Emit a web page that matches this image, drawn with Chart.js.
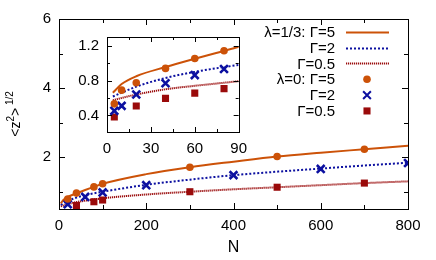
<!DOCTYPE html>
<html>
<head>
<meta charset="utf-8">
<script src="https://cdn.jsdelivr.net/npm/chart.js@4"></script>
<style>
  html, body { margin: 0; padding: 0; background: #fff; }
  #wrap { position: relative; width: 436px; height: 260px; }
  #main { position: absolute; left: 0; top: 0; }
  #inset { position: absolute; left: 70px; top: 20px; }
</style>
</head>
<body>
<div id="wrap">
  <canvas id="main" width="436" height="260"></canvas>
  <canvas id="inset" width="185" height="145"></canvas>
</div>
<script>
// theory curves (lambda = 1/3)
const lineN = [4, 10, 20, 40, 60, 80, 100, 200, 300, 400, 500, 600, 700, 800];
const lineG5 = [0.66, 0.76, 0.85, 0.955, 1.05, 1.14, 1.23, 1.51, 1.71, 1.87, 2.02, 2.13, 2.23, 2.33];
const lineG2 = [0.617, 0.66, 0.73, 0.83, 0.9, 0.955, 1.0, 1.2, 1.35, 1.48, 1.58, 1.67, 1.76, 1.84];
const lineG05 = [0.575, 0.6, 0.64, 0.7, 0.74, 0.775, 0.81, 0.92, 1.0, 1.07, 1.13, 1.19, 1.25, 1.3];

// simulation points (lambda = 0), main panel
const circN = [20, 40, 80, 100, 300, 500, 700];
const circV = [0.79, 0.96, 1.14, 1.23, 1.71, 2.02, 2.23];
const crossN = [20, 60, 100, 200, 400, 600, 800];
const crossV = [0.64, 0.85, 0.98, 1.19, 1.48, 1.66, 1.83];
const sqN = [40, 80, 100, 300, 500, 700];
const sqV = [0.6, 0.71, 0.76, 1.0, 1.13, 1.25];

// simulation points, inset
const circInN = [5, 10, 20, 40, 60, 80];
const circInV = [0.533, 0.69, 0.775, 0.94, 1.053, 1.143];
const crossInN = [5, 10, 20, 40, 60, 80];
const crossInV = [0.453, 0.51, 0.64, 0.77, 0.863, 0.933];
const sqInN = [5, 20, 40, 60, 80];
const sqInV = [0.382, 0.508, 0.596, 0.656, 0.708];

// ticks
const xMainTicks = [0, 200, 400, 600, 800];
const xMainMinor = [100, 300, 500, 700];
const yMainTicks = [2, 4, 6];
const yMainMinor = [1, 3, 5];
const xInTicks = [0, 30, 60, 90];
const xInMinor = [15, 45, 75];
const yInTicks = [0.4, 0.8, 1.2];
const yInMinor = [0.6, 1.0];

const legendLabels = ["λ=1/3: Γ=5", "Γ=2", "Γ=0.5", "λ=0: Γ=5", "Γ=2", "Γ=0.5"];

const ORANGE = "#cc5208";
const BLUE = "#0c10a0";
const RED = "#9a0a0a";
const FONT = "'Liberation Sans', Arial, sans-serif";

const pts = (xs, ys) => xs.map((x, i) => ({ x: x, y: ys[i] }));

function lineSets() {
  const base = { showLine: true, pointRadius: 0, cubicInterpolationMode: "monotone", order: 2 };
  return [
    Object.assign({}, base, { data: pts(lineN, lineG5), borderColor: ORANGE, borderWidth: 2 }),
    Object.assign({}, base, { data: pts(lineN, lineG2), borderColor: BLUE, borderWidth: 2, borderDash: [2, 2] }),
    Object.assign({}, base, { data: pts(lineN, lineG05), borderColor: RED, borderWidth: 2, borderDash: [1.2, 0.8] }),
  ];
}

function pointSets(cN, cV, xN, xV, sN, sV) {
  return [
    { data: pts(cN, cV), showLine: false, pointStyle: "circle", pointRadius: 3.8, backgroundColor: ORANGE, borderColor: ORANGE, pointBorderWidth: 0, order: 0 },
    { data: pts(xN, xV), showLine: false, pointStyle: "crossRot", pointRadius: 5.5, borderColor: BLUE, pointBorderWidth: 2.6, order: 0 },
    { data: pts(sN, sV), showLine: false, pointStyle: "rect", pointRadius: 5, backgroundColor: RED, borderColor: RED, pointBorderWidth: 0, order: 0 },
  ];
}

// gnuplot style frame with inward ticks
function frameTicks(ticks) {
  return {
    id: "frameTicks",
    afterDraw(chart) {
      const ctx = chart.ctx, a = chart.chartArea;
      const xs = chart.scales.x, ys = chart.scales.y;
      ctx.save();
      ctx.strokeStyle = "#000";
      ctx.lineWidth = 1;
      ctx.strokeRect(Math.round(a.left) + 0.5, Math.round(a.top) + 0.5, Math.round(a.right - a.left), Math.round(a.bottom - a.top));
      ctx.beginPath();
      const tx = (vals, len) => vals.forEach(v => {
        const p = Math.round(xs.getPixelForValue(v)) + 0.5;
        ctx.moveTo(p, a.bottom); ctx.lineTo(p, a.bottom - len);
        ctx.moveTo(p, a.top); ctx.lineTo(p, a.top + len);
      });
      const ty = (vals, len) => vals.forEach(v => {
        const p = Math.round(ys.getPixelForValue(v)) + 0.5;
        ctx.moveTo(a.left, p); ctx.lineTo(a.left + len, p);
        ctx.moveTo(a.right, p); ctx.lineTo(a.right - len, p);
      });
      tx(ticks.xMajor, ticks.major); tx(ticks.xMinor, ticks.minor);
      ty(ticks.yMajor, ticks.major); ty(ticks.yMinor, ticks.minor);
      ctx.stroke();
      ctx.restore();
    },
  };
}

function axisOpts(min, max, tickVals, fmt, fit) {
  return {
    type: "linear",
    min: min,
    max: max,
    grid: { display: false, drawTicks: false },
    border: { display: false },
    afterBuildTicks: s => { s.ticks = tickVals.map(v => ({ value: v })); },
    afterFit: fit,
    ticks: { color: "#000", font: { family: FONT, size: 15 }, padding: 8, callback: fmt, maxRotation: 0, autoSkip: false },
  };
}

const labelsPlugin = {
  id: "mainLabels",
  afterDraw(chart) {
    const ctx = chart.ctx, a = chart.chartArea;
    ctx.save();
    ctx.fillStyle = "#000";
    // x title
    ctx.font = "16px " + FONT;
    ctx.textAlign = "center";
    ctx.textBaseline = "middle";
    ctx.fillText("N", (a.left + a.right) / 2, 248);
    // y title <z^2>^(1/2), rotated
    ctx.translate(19.5, (a.top + a.bottom) / 2);
    ctx.rotate(-Math.PI / 2);
    ctx.textAlign = "left";
    ctx.textBaseline = "alphabetic";
    const big = "14px " + FONT, small = "10px " + FONT;
    const parts = [["<z", big, 0], ["2", small, -6], [">", big, 0], [" 1/2", small, -7]];
    let w = 0;
    parts.forEach(p => { ctx.font = p[1]; w += ctx.measureText(p[0]).width; });
    let x = -w / 2;
    parts.forEach(p => { ctx.font = p[1]; ctx.fillText(p[0], x, p[2]); x += ctx.measureText(p[0]).width; });
    ctx.restore();

    // legend
    ctx.save();
    ctx.font = "15px " + FONT;
    ctx.textAlign = "right";
    ctx.textBaseline = "middle";
    const sets = chart.data.datasets;
    legendLabels.forEach((t, i) => {
      const y = 31.7 + i * 15.85;
      ctx.fillStyle = "#000";
      ctx.fillText(t, 335, y + 1);
      const ds = sets[i];
      if (i < 3) {
        ctx.strokeStyle = ds.borderColor;
        ctx.lineWidth = ds.borderWidth;
        ctx.setLineDash(ds.borderDash || []);
        ctx.beginPath();
        ctx.moveTo(346, Math.round(y) + 0.5);
        ctx.lineTo(389, Math.round(y) + 0.5);
        ctx.stroke();
        ctx.setLineDash([]);
      } else {
        ctx.fillStyle = ds.backgroundColor || ds.borderColor;
        ctx.strokeStyle = ds.borderColor;
        Chart.helpers.drawPoint(ctx, { pointStyle: ds.pointStyle, radius: ds.pointRadius, borderWidth: ds.pointBorderWidth, rotation: 0 }, 367, y);
      }
    });
    ctx.restore();
  },
};

new Chart(document.getElementById("main"), {
  type: "scatter",
  data: { datasets: lineSets().concat(pointSets(circN, circV, crossN, crossV, sqN, sqV)) },
  options: {
    responsive: false,
    animation: false,
    layout: { padding: { left: 0, right: 28, top: 19, bottom: 0 } },
    plugins: { legend: { display: false }, tooltip: { enabled: false } },
    scales: {
      x: axisOpts(0, 800, xMainTicks, v => String(v), s => { s.height = 51; }),
      y: axisOpts(0.5, 6, yMainTicks, v => String(v), s => { s.width = 59; }),
    },
  },
  plugins: [frameTicks({ xMajor: xMainTicks, xMinor: xMainMinor, yMajor: yMainTicks, yMinor: yMainMinor, major: 6, minor: 4 }), labelsPlugin],
});

const insetBg = {
  id: "insetBg",
  beforeDraw(chart) {
    const a = chart.chartArea, ctx = chart.ctx;
    ctx.save();
    ctx.fillStyle = "#fff";
    ctx.fillRect(a.left, a.top, a.right - a.left, a.bottom - a.top);
    ctx.restore();
  },
};

new Chart(document.getElementById("inset"), {
  type: "scatter",
  data: { datasets: lineSets().concat(pointSets(circInN, circInV, crossInN, crossInV, sqInN, sqInV)) },
  options: {
    responsive: false,
    animation: false,
    layout: { padding: { left: 0, right: 10, top: 8, bottom: 0 } },
    plugins: { legend: { display: false }, tooltip: { enabled: false } },
    scales: {
      x: axisOpts(0, 90, xInTicks, v => String(v), s => { s.height = 33; }),
      y: axisOpts(0.21, 1.3, yInTicks, v => v.toFixed(1), s => { s.width = 37; }),
    },
  },
  plugins: [insetBg, frameTicks({ xMajor: xInTicks, xMinor: xInMinor, yMajor: yInTicks, yMinor: yInMinor, major: 5, minor: 3 })],
});
</script>
</body>
</html>
